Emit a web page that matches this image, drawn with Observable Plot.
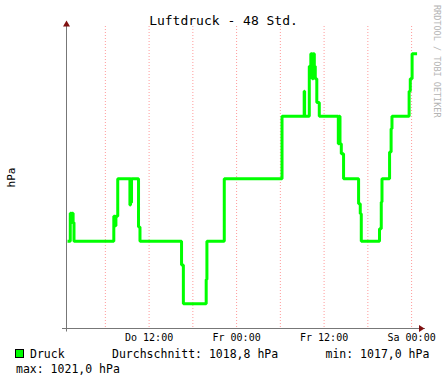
<!DOCTYPE html>
<html><head><meta charset="utf-8">
<script src="https://cdn.jsdelivr.net/npm/d3@7"></script>
<script src="https://cdn.jsdelivr.net/npm/@observablehq/plot@0.6"></script>
<style>body{margin:0;background:#fff} svg{display:block}</style>
</head><body><div id="chart"></div>
<script>
const title = "Luftdruck - 48 Std.";
const yLabel = "hPa";
const seriesName = "Druck";
const legendStats = ["Durchschnitt: 1018,8 hPa", "min: 1017,0 hPa", "max: 1021,0 hPa"];
const watermark = "RRDTOOL / TOBI OETIKER";
const dayNames = ["So","Mo","Di","Mi","Do","Fr","Sa"];
// hours since Thursday 00:00
const hours = [0.81, 1.19, 1.35, 1.45, 1.58, 1.70, 7.16, 7.35, 7.45, 7.70,
  9.37, 9.45, 9.50, 9.59, 10.55, 10.75, 16.45, 16.70, 19.83, 19.93, 22.31,
  30.23, 33.27, 33.33, 33.97, 34.18, 34.38, 34.52, 34.66, 34.79, 35.00, 35.34,
  37.95, 38.08, 38.18, 38.36, 38.67, 40.73, 40.96, 41.10, 43.60, 43.84, 43.94,
  44.98, 45.19, 45.31, 47.66, 47.82, 48.07, 48.75];
const pressure = [1018, 1018.45, 1018.3, 1018.45, 1018.3, 1018, 1018.4, 1018.25, 1018.4, 1019,
  1018.58, 1019, 1018.62, 1019, 1018.23, 1018, 1017.62, 1017, 1017.39, 1018, 1019,
  1020, 1020.4, 1020, 1020.8, 1021, 1020.6, 1021, 1020.8, 1020.6, 1020.22, 1020,
  1019.56, 1020, 1019.56, 1019.4, 1019, 1018.6, 1018.44, 1018, 1018.2, 1018.63, 1019,
  1019.43, 1019.8, 1020, 1020.4, 1020.6, 1021, 1021];
const gridHours = [6, 12, 18, 24, 30, 36, 42, 48];
const tickHours = [12, 24, 36, 48];
const xDomainHours = [0.81, 48.81];
const yDomain = [1016.605, 1021.437];

const t0 = Date.UTC(2024, 0, 4); // a Thursday
const toDate = h => new Date(t0 + h * 3600e3);
const data = hours.map((h, i) => ({time: toDate(h), value: pressure[i]}));
const fmt = d3.utcFormat("%H:%M");

const chart = Plot.plot({
  width: 447, height: 382,
  marginLeft: 67, marginRight: 30, marginTop: 26, marginBottom: 54,
  style: {background: "#fff", fontFamily: "DejaVu Sans Mono", fontSize: "10px", color: "#000"},
  x: {type: "utc", domain: xDomainHours.map(toDate)},
  y: {domain: yDomain, axis: null},
  marks: [
    Plot.ruleX(gridHours.map(toDate), {stroke: "#ff9a9a", strokeDasharray: "1,2", strokeWidth: 1}),
    Plot.line(data, {x: "time", y: "value", curve: "step-after", stroke: "#00ff00", strokeWidth: 3, strokeLinejoin: "miter", strokeLinecap: "butt"}),
    Plot.axisX({ticks: tickHours.map(toDate), tickFormat: d => `${dayNames[d.getUTCDay()]} ${fmt(d)}`, tickSize: 0, tickPadding: 5.5, fontSize: 10, label: null})
  ]
});
document.getElementById("chart").appendChild(chart);

const svg = d3.select(chart);
const xs = chart.scale("x"), ys = chart.scale("y");
const [xl, xr] = xs.range;
const [yb, yt] = ys.range;
const axisColor = "#777", arrowColor = "#801010";
const ax = xl - 0.5, ay = yb + 0.5;
svg.append("line").attr("x1", ax).attr("x2", ax).attr("y1", ay + 3).attr("y2", yt - 4).attr("stroke", axisColor);
svg.append("line").attr("x1", xl - 5).attr("x2", xr + 8).attr("y1", ay).attr("y2", ay).attr("stroke", axisColor);
svg.append("path").attr("d", `M${ax - 3.5},${yt + 0.5}L${ax + 3.5},${yt + 0.5}L${ax},${yt - 5.5}Z`).attr("fill", arrowColor);
svg.append("path").attr("d", `M${xr + 2},${ay - 3.5}L${xr + 2},${ay + 3.5}L${xr + 7.5},${ay}Z`).attr("fill", arrowColor);

const txt = (x, y, s, size, anchor, fill) => svg.append("text").attr("x", x).attr("y", y)
  .attr("font-family", "DejaVu Sans Mono").attr("font-size", size)
  .attr("text-anchor", anchor || "start").attr("fill", fill || "#000").text(s);
txt(223.5, 24.5, title, 13, "middle");
svg.append("text").attr("transform", "translate(15,177.5) rotate(-90)")
  .attr("font-family", "DejaVu Sans Mono").attr("font-size", 11).attr("text-anchor", "middle").attr("fill", "#000").text(yLabel);
svg.append("text").attr("transform", "translate(434,5) rotate(90)")
  .attr("font-family", "DejaVu Sans Mono").attr("font-size", 8.5).attr("text-anchor", "start").attr("fill", "#b4b4b4").text(watermark);

svg.append("rect").attr("x", 15.5).attr("y", 349.5).attr("width", 8).attr("height", 8).attr("fill", "#00ff00").attr("stroke", "#000");
txt(30, 357.5, seriesName, 11.5);
txt(112, 357.5, legendStats[0], 11.5);
txt(325.5, 357.5, legendStats[1], 11.5);
txt(16, 372.5, legendStats[2], 11.5);
</script></body></html>
